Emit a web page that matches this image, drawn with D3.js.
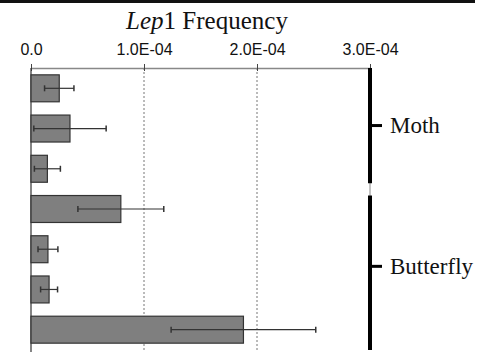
<!DOCTYPE html>
<html>
<head>
<meta charset="utf-8">
<script src="https://cdn.jsdelivr.net/npm/d3@7/dist/d3.min.js"></script>
<style>
    body { margin: 0; background: #fff; }
</style>
</head>
<body>
<div id="chart"></div>
<script>
var width = 489;
var height = 354;

// data (frequency, error half-width)
var rows = ["M1", "M2", "M3", "B1", "B2", "B3", "B4"];
var freq = [2.5e-5, 3.45e-5, 1.45e-5, 7.95e-5, 1.5e-5, 1.6e-5, 1.88e-4];
var err = [1.3e-5, 3.2e-5, 1.15e-5, 3.8e-5, 0.88e-5, 0.75e-5, 6.4e-5];
var groups = ["Moth", "Butterfly"];
var groupRows = [["M1", "M2", "M3"], ["B1", "B2", "B3", "B4"]];
var ticks = [0, 1e-4, 2e-4, 3e-4];
var tickLabels = ["0.0", "1.0E-04", "2.0E-04", "3.0E-04"];

var plotLeft = 31, plotRight = 370, plotTop = 68, plotBottom = 350;

var svg = d3.select("#chart").append("svg")
    .attr("width", width)
    .attr("height", height);

// dark strip at top edge of the scan
svg.append("rect")
    .attr("x", 0).attr("y", 0)
    .attr("width", 475).attr("height", 3)
    .attr("fill", "#111");

var x = d3.scaleLinear().domain([0, 3e-4]).range([plotLeft, plotRight]);
var y = d3.scaleBand().domain(rows).range([plotTop, plotBottom])
    .paddingInner(0.33).paddingOuter(0.17);

// title
var title = svg.append("text")
    .attr("x", 207).attr("y", 29)
    .attr("text-anchor", "middle")
    .style("font-family", "'Liberation Serif', 'Times New Roman', serif")
    .style("font-size", "25px")
    .attr("fill", "#111");
title.append("tspan").style("font-style", "italic").text("Lep");
title.append("tspan").text("1 Frequency");

// dotted grid
svg.selectAll(".grid")
    .data(ticks.slice(1, 3))
    .enter().append("line")
    .attr("x1", d => x(d)).attr("x2", d => x(d))
    .attr("y1", plotTop).attr("y2", plotBottom + 2)
    .attr("stroke", "#777")
    .attr("stroke-width", 1)
    .attr("stroke-dasharray", "2,2");

// top axis
var axis = d3.axisTop(x).tickValues(ticks)
    .tickFormat((d, i) => tickLabels[i])
    .tickSize(4).tickSizeOuter(0);
var ag = svg.append("g")
    .attr("transform", "translate(0," + plotTop + ")")
    .call(axis);
ag.select(".domain").attr("stroke", "#888").attr("stroke-width", 1.5);
ag.selectAll(".tick line").attr("stroke", "#444").attr("y2", 3).attr("y1", -4);
ag.selectAll(".tick text")
    .attr("y", -13)
    .style("font-family", "'Liberation Sans', Arial, sans-serif")
    .style("font-size", "16px")
    .attr("fill", "#111");

// left axis
svg.append("line")
    .attr("x1", plotLeft).attr("x2", plotLeft)
    .attr("y1", plotTop).attr("y2", plotBottom + 2)
    .attr("stroke", "#333").attr("stroke-width", 1.2);

// bars
svg.selectAll(".bar")
    .data(rows)
    .enter().append("rect")
    .attr("x", plotLeft)
    .attr("y", d => y(d))
    .attr("width", (d, i) => x(freq[i]) - plotLeft)
    .attr("height", y.bandwidth())
    .attr("fill", "#7f7f7f")
    .attr("stroke", "#333")
    .attr("stroke-width", 1.2);

// error bars
var eb = svg.selectAll(".err")
    .data(rows)
    .enter().append("g")
    .attr("transform", d => "translate(0," + (y(d) + y.bandwidth() / 2) + ")");
eb.append("line")
    .attr("x1", (d, i) => x(freq[i] - err[i]))
    .attr("x2", (d, i) => x(freq[i] + err[i]))
    .attr("stroke", "#333").attr("stroke-width", 1.2);
eb.append("line")
    .attr("x1", (d, i) => x(freq[i] - err[i]))
    .attr("x2", (d, i) => x(freq[i] - err[i]))
    .attr("y1", -3).attr("y2", 3)
    .attr("stroke", "#333").attr("stroke-width", 1.5);
eb.append("line")
    .attr("x1", (d, i) => x(freq[i] + err[i]))
    .attr("x2", (d, i) => x(freq[i] + err[i]))
    .attr("y1", -3).attr("y2", 3)
    .attr("stroke", "#333").attr("stroke-width", 1.5);

// thin connector between brackets
svg.append("line")
    .attr("x1", plotRight).attr("x2", plotRight)
    .attr("y1", plotTop).attr("y2", plotBottom)
    .attr("stroke", "#888").attr("stroke-width", 1);

// group brackets on the right
groups.forEach(function (g, gi) {
    var rs = groupRows[gi];
    var y0 = gi == 0 ? plotTop : y(rs[0]);
    var y1 = gi == groups.length - 1 ? plotBottom : y(rs[rs.length - 1]) + y.bandwidth() + 1;
    var ym = (y(rs[0]) + y(rs[rs.length - 1]) + y.bandwidth()) / 2 - 3;
    svg.append("line")
        .attr("x1", plotRight).attr("x2", plotRight)
        .attr("y1", y0).attr("y2", y1)
        .attr("stroke", "#000").attr("stroke-width", 4);
    svg.append("line")
        .attr("x1", plotRight).attr("x2", plotRight + 12)
        .attr("y1", ym).attr("y2", ym)
        .attr("stroke", "#000").attr("stroke-width", 3);
    svg.append("text")
        .attr("x", plotRight + 20).attr("y", ym)
        .attr("dy", "0.33em")
        .style("font-family", "'Liberation Serif', 'Times New Roman', serif")
        .style("font-size", "23px")
        .attr("fill", "#111")
        .text(g);
});
</script>
</body>
</html>
